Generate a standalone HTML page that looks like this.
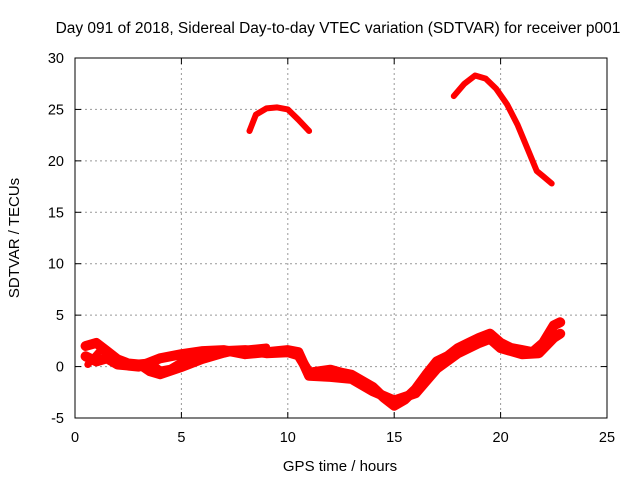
<!DOCTYPE html>
<html><head><meta charset="utf-8"><style>
body{margin:0;background:#fff}
svg{display:block;font-family:"Liberation Sans",sans-serif}
</style></head><body>
<svg id="chart" width="640" height="480">
<rect width="640" height="480" fill="#fff"/>
<text x="338" y="33" text-anchor="middle" font-size="15.5">Day 091 of 2018, Sidereal Day-to-day VTEC variation (SDTVAR) for receiver p001</text>
<g id="grid"></g>
<g id="series"></g>
<rect x="75" y="58" width="532" height="360" fill="none" stroke="#000" stroke-width="1"/>
<g id="ticks"></g>
<text x="340" y="471" text-anchor="middle" font-size="15">GPS time / hours</text>
<text transform="translate(19,238) rotate(-90)" text-anchor="middle" font-size="15">SDTVAR / TECUs</text>
</svg>
<script>
const xTicks=[0,5,10,15,20,25];
const yTicks=[-5,0,5,10,15,20,25,30];
const arc1X=[8.2,8.5,9,9.5,10,10.5,11];
const arc1Y=[22.9,24.5,25.1,25.2,25,24,22.9];
const arc2X=[17.8,18.3,18.8,19.3,19.8,20.3,20.8,21.3,21.7,22,22.4];
const arc2Y=[26.3,27.5,28.3,28,27,25.5,23.5,21,19,18.5,17.8];
const lowAX=[0.5,1,1.5,2,2.5,3,3.5,4,4.5,5,5.5,6,7,8,9,10,10.5,11,12,12.5,13,14,14.5,15,15.5,16,16.5,17,17.5,18,18.5,19,19.5,20,20.5,21,21.5,22,22.5,22.8];
const lowAY=[2,2.3,1.5,0.7,0.3,0.2,0.3,-0.5,-0.3,0.3,0.8,1.3,1.5,1.6,1.3,1.4,1.1,-0.6,-0.3,-0.6,-0.8,-2,-3,-3.8,-3.2,-2.2,-0.8,0.5,1,1.8,2.3,2.8,3.2,2.3,1.8,1.6,1.4,2.3,4,4.3];
const lowBX=[0.5,1,1.5,2,3,4,5,6,7,8,9,10,10.5,11,12,13,14,15,16,17,18,19,19.5,20,21,21.8,22.5,22.8];
const lowBY=[1,0.5,0.8,0.2,0,0.8,1.2,1.5,1.6,1.2,1.4,1.6,1.4,-0.9,-1,-1.2,-2.4,-3.3,-2.6,-0.2,1.3,2.3,2.7,1.8,1.2,1.3,2.8,3.2];
const lowCX=[0.6,1.2,2,3,3.5,4,5,6,7,8,9];
const lowCY=[0.2,1.6,0.5,0.1,-0.6,-0.9,-0.2,0.6,1.2,1.7,1.9];
const NS="http://www.w3.org/2000/svg";
const px=x=>75+x*532/25, py=y=>58+(30-y)*360/35;
const grid=document.getElementById('grid'),ticks=document.getElementById('ticks'),ser=document.getElementById('series');
function mk(tag,attrs,parent){const e=document.createElementNS(NS,tag);for(const k in attrs)e.setAttribute(k,attrs[k]);parent.appendChild(e);return e;}
xTicks.forEach(t=>{
 if(t>0&&t<25){const g=mk('line',{x1:px(t),x2:px(t),y1:58,y2:418,stroke:'#999','stroke-dasharray':'2,3'},grid);
 }
 mk('line',{x1:px(t),x2:px(t),y1:418,y2:412,stroke:'#000'},ticks);
 mk('line',{x1:px(t),x2:px(t),y1:58,y2:64,stroke:'#000'},ticks);
 const l=mk('text',{x:px(t),y:442,'text-anchor':'middle','font-size':14.5},ticks);l.textContent=t;
 
});
yTicks.forEach(t=>{
 if(t>-5&&t<30){const g=mk('line',{x1:75,x2:607,y1:py(t),y2:py(t),stroke:'#999','stroke-dasharray':'2,3'},grid);
 }
 mk('line',{x1:75,x2:81,y1:py(t),y2:py(t),stroke:'#000'},ticks);
 mk('line',{x1:607,x2:601,y1:py(t),y2:py(t),stroke:'#000'},ticks);
 const l=mk('text',{x:64,y:py(t)+5,'text-anchor':'end','font-size':14.5},ticks);l.textContent=t;
 
});
function trace(xs,ys,w,name){
 const d=xs.map((x,i)=>(i?'L':'M')+px(x).toFixed(1)+','+py(ys[i]).toFixed(1)).join('');
 const p=mk('path',{d:d,fill:'none',stroke:'#f00','stroke-width':w,'stroke-linejoin':'round','stroke-linecap':'round'},ser);
 
 
}
trace(arc1X,arc1Y,6,'satellite-arc-1');
trace(arc2X,arc2Y,6,'satellite-arc-2');
trace(lowAX,lowAY,10,'low-trace-a');
trace(lowBX,lowBY,10,'low-trace-b');
trace(lowCX,lowCY,7,'low-trace-c');
</script>
</body></html>
